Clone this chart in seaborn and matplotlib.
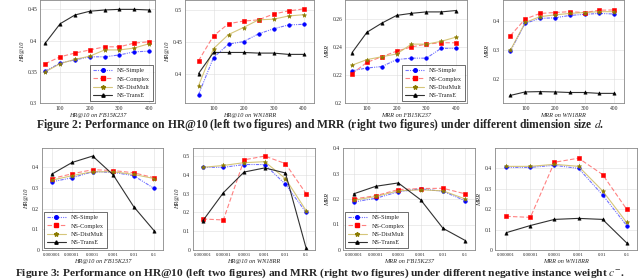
import matplotlib
matplotlib.use("Agg")
import matplotlib.pyplot as plt
import seaborn as sns
from matplotlib.lines import Line2D

sns.set_style("whitegrid")
plt.rcParams["font.family"] = ["Liberation Serif", "DejaVu Serif"]
plt.rcParams["mathtext.fontset"] = "stix"

# --------------------------------------------------
# Data
# --------------------------------------------------
models = ["NS-Simple", "NS-Complex", "NS-DistMult", "NS-TransE"]

dims = [50, 100, 150, 200, 250, 300, 350, 400]
weights = ["0.000001", "0.00001", "0.0001", "0.001", "0.01", "0.1"]

# Figure 2: dimension size
hr_fb_dim = {
    "NS-Simple":   [0.351, 0.364, 0.369, 0.374, 0.374, 0.377, 0.382, 0.383],
    "NS-Complex":  [0.363, 0.374, 0.380, 0.385, 0.390, 0.390, 0.396, 0.398],
    "NS-DistMult": [0.350, 0.363, 0.370, 0.375, 0.385, 0.385, 0.388, 0.395],
    "NS-TransE":   [0.396, 0.427, 0.441, 0.447, 0.449, 0.450, 0.450, 0.449],
}
hr_wn_dim = {
    "NS-Simple":   [0.368, 0.426, 0.447, 0.451, 0.463, 0.471, 0.477, 0.478],
    "NS-Complex":  [0.421, 0.460, 0.479, 0.483, 0.485, 0.494, 0.499, 0.502],
    "NS-DistMult": [0.382, 0.440, 0.462, 0.473, 0.485, 0.486, 0.491, 0.493],
    "NS-TransE":   [0.401, 0.434, 0.434, 0.434, 0.433, 0.433, 0.431, 0.431],
}
mrr_fb_dim = {
    "NS-Simple":   [0.223, 0.225, 0.226, 0.231, 0.232, 0.232, 0.239, 0.239],
    "NS-Complex":  [0.221, 0.229, 0.233, 0.237, 0.240, 0.242, 0.243, 0.243],
    "NS-DistMult": [0.227, 0.231, 0.233, 0.235, 0.242, 0.242, 0.244, 0.247],
    "NS-TransE":   [0.236, 0.2505, 0.257, 0.2625, 0.264, 0.265, 0.265, 0.266],
}
mrr_wn_dim = {
    "NS-Simple":   [0.298, 0.392, 0.409, 0.411, 0.419, 0.423, 0.426, 0.424],
    "NS-Complex":  [0.350, 0.407, 0.426, 0.429, 0.432, 0.429, 0.437, 0.438],
    "NS-DistMult": [0.300, 0.395, 0.415, 0.421, 0.426, 0.429, 0.432, 0.432],
    "NS-TransE":   [0.145, 0.157, 0.158, 0.157, 0.155, 0.155, 0.152, 0.152],
}

# Figure 3: negative instance weight
hr_fb_w = {
    "NS-Simple":   [0.330, 0.350, 0.379, 0.376, 0.360, 0.298],
    "NS-Complex":  [0.346, 0.369, 0.389, 0.385, 0.374, 0.350],
    "NS-DistMult": [0.338, 0.360, 0.379, 0.379, 0.366, 0.346],
    "NS-TransE":   [0.367, 0.424, 0.455, 0.364, 0.210, 0.093],
}
hr_wn_w = {
    "NS-Simple":   [0.440, 0.440, 0.455, 0.455, 0.350, 0.200],
    "NS-Complex":  [0.165, 0.160, 0.480, 0.500, 0.460, 0.300],
    "NS-DistMult": [0.440, 0.450, 0.465, 0.470, 0.380, 0.210],
    "NS-TransE":   [0.155, 0.305, 0.415, 0.437, 0.410, 0.010],
}
mrr_fb_w = {
    "NS-Simple":   [0.188, 0.203, 0.228, 0.240, 0.230, 0.193],
    "NS-Complex":  [0.200, 0.213, 0.237, 0.241, 0.242, 0.220],
    "NS-DistMult": [0.195, 0.210, 0.232, 0.236, 0.232, 0.200],
    "NS-TransE":   [0.220, 0.250, 0.263, 0.197, 0.085, 0.037],
}
mrr_wn_w = {
    "NS-Simple":   [0.405, 0.405, 0.415, 0.400, 0.270, 0.120],
    "NS-Complex":  [0.165, 0.160, 0.430, 0.450, 0.370, 0.200],
    "NS-DistMult": [0.410, 0.410, 0.420, 0.410, 0.290, 0.135],
    "NS-TransE":   [0.085, 0.120, 0.150, 0.155, 0.150, 0.035],
}

# --------------------------------------------------
# Styles
# --------------------------------------------------
styles = {
    "NS-Simple":   dict(color=(0.0, 0.0, 1.0, 0.55), mc="#0000ff", marker="o", ms=2.6, ls=(0, (3, 1, 1, 1, 1, 1))),
    "NS-Complex":  dict(color=(1.0, 0.1, 0.1, 0.55), mc="#ff0000", marker="s", ms=2.6, ls=(0, (4, 2))),
    "NS-DistMult": dict(color=(0.8, 0.72, 0.35, 0.8), mc="#8a7a00", marker="*", ms=3.2, ls="-"),
    "NS-TransE":   dict(color=(0.1, 0.1, 0.1, 0.9), mc="#000000", marker="^", ms=2.4, ls="-"),
}

W, H = 640, 280
fig = plt.figure(figsize=(6.4, 2.8), dpi=100)


def add_ax(x0, x1, y0, y1):
    return fig.add_axes([x0 / W, 1 - y1 / H, (x1 - x0) / W, (y1 - y0) / H])


def draw(ax, x, data, xlabel, ylabel, xlim, ylim, yticks, yticklabels, xticks, xticklabels,
         legend_loc=None, xtick_size=4):
    for m in models:
        st = styles[m]
        sns.lineplot(x=x, y=data[m], ax=ax, color=st["color"], linestyle=st["ls"], linewidth=0.8,
                     marker=st["marker"], markersize=st["ms"], markerfacecolor=st["mc"],
                     markeredgecolor=st["mc"], markeredgewidth=0.4, sort=False)
    ax.set_xlim(*xlim)
    ax.set_ylim(*ylim)
    ax.set_xticks(xticks)
    ax.set_xticklabels(xticklabels)
    ax.set_yticks(yticks)
    ax.set_yticklabels(yticklabels)
    ax.tick_params(labelsize=4, length=0, pad=2)
    ax.tick_params(axis="x", labelsize=xtick_size)
    ax.grid(True, color="#dddddd", linewidth=0.4)
    for s in ax.spines.values():
        s.set_color("#888888")
        s.set_linewidth(0.6)
    ax.set_xlabel(xlabel, fontsize=4.5, style="italic", labelpad=1.5)
    ax.set_ylabel(ylabel, fontsize=4.5, style="italic", labelpad=2)
    if legend_loc:
        handles = [Line2D([], [], color=styles[m]["color"], linestyle=styles[m]["ls"], linewidth=0.8,
                          marker=styles[m]["marker"], markersize=styles[m]["ms"],
                          markerfacecolor=styles[m]["mc"], markeredgecolor=styles[m]["mc"])
                   for m in models]
        leg = ax.legend(handles, models, loc=legend_loc, fontsize=4.5, frameon=True, fancybox=False,
                        handlelength=3, borderpad=0.5, labelspacing=0.45, borderaxespad=0.3)
        leg.get_frame().set_edgecolor("black")
        leg.get_frame().set_linewidth(0.5)


dim_ticks = [100, 200, 300, 400]
dim_labels = ["100", "200", "300", "400"]
wpos = list(range(len(weights)))

# --------------------------------------------------
# Figure 2 row
# --------------------------------------------------
ax = add_ax(40, 155, 0, 103)
draw(ax, dims, hr_fb_dim, "HR@10 on FB15K237", "HR@10", (32, 420), (0.3, 0.465),
     [0.3, 0.35, 0.4, 0.45], ["0.3", "0.35", "0.4", "0.45"], dim_ticks, dim_labels, "lower right")

ax = add_ax(185, 314, 0, 103)
draw(ax, dims, hr_wn_dim, "HR@10 on WN18RR", "HR@10", (5, 435), (0.355, 0.516),
     [0.4, 0.45, 0.5], ["0.4", "0.45", "0.5"], dim_ticks, dim_labels)

ax = add_ax(345, 467, 0, 103)
draw(ax, dims, mrr_fb_dim, "MRR on FB15K237", "MRR", (26, 437), (0.2, 0.2735),
     [0.2, 0.22, 0.24, 0.26], ["0.2", "0.22", "0.24", "0.26"], dim_ticks, dim_labels, "lower right")

ax = add_ax(503, 624, 0, 103)
draw(ax, dims, mrr_wn_dim, "MRR on WN18RR", "MRR", (25, 433), (0.119, 0.472),
     [0.2, 0.3, 0.4], ["0.2", "0.3", "0.4"], dim_ticks, dim_labels)

fig.text(0.5, 1 - 125 / H, "Figure 2: Performance on HR@10 (left two figures) and MRR (right two figures) "
         "under different dimension size $d$.", ha="center", va="center", fontsize=8.4, fontweight="bold")

# --------------------------------------------------
# Figure 3 row
# --------------------------------------------------
wlim = (-0.47, 5.43)
ax = add_ax(42, 163, 148, 250)
draw(ax, wpos, hr_fb_w, "HR@10 on FB15K237", "HR@10", wlim, (0, 0.494),
     [0, 0.1, 0.2, 0.3, 0.4], ["0", "0.1", "0.2", "0.3", "0.4"], wpos, weights, "lower left", 3.5)

ax = add_ax(193, 315, 148, 250)
draw(ax, wpos, hr_wn_w, "HR@10 on WN18RR", "HR@10", wlim, (0, 0.543),
     [0, 0.1, 0.2, 0.3, 0.4, 0.5], ["0", "0.1", "0.2", "0.3", "0.4", "0.5"], wpos, weights, None, 3.5)

ax = add_ax(343, 475, 148, 250)
draw(ax, wpos, mrr_fb_w, "MRR on FB15K237", "MRR", wlim, (0, 0.4),
     [0, 0.1, 0.2, 0.3, 0.4], ["0", "0.1", "0.2", "0.3", "0.4"], wpos, weights, "lower left", 3.5)

ax = add_ax(495, 637, 148, 250)
draw(ax, wpos, mrr_wn_w, "MRR on WN18RR", "MRR", wlim, (0, 0.5),
     [0, 0.1, 0.2, 0.3, 0.4], ["0", "0.1", "0.2", "0.3", "0.4"], wpos, weights, None, 3.5)

fig.text(0.5, 1 - 273 / H, "Figure 3: Performance on HR@10 (left two figures) and MRR (right two figures) "
         "under different negative instance weight $c^{-}$.", ha="center", va="center", fontsize=8.2,
         fontweight="bold")

fig.savefig("out.png", dpi=100)
